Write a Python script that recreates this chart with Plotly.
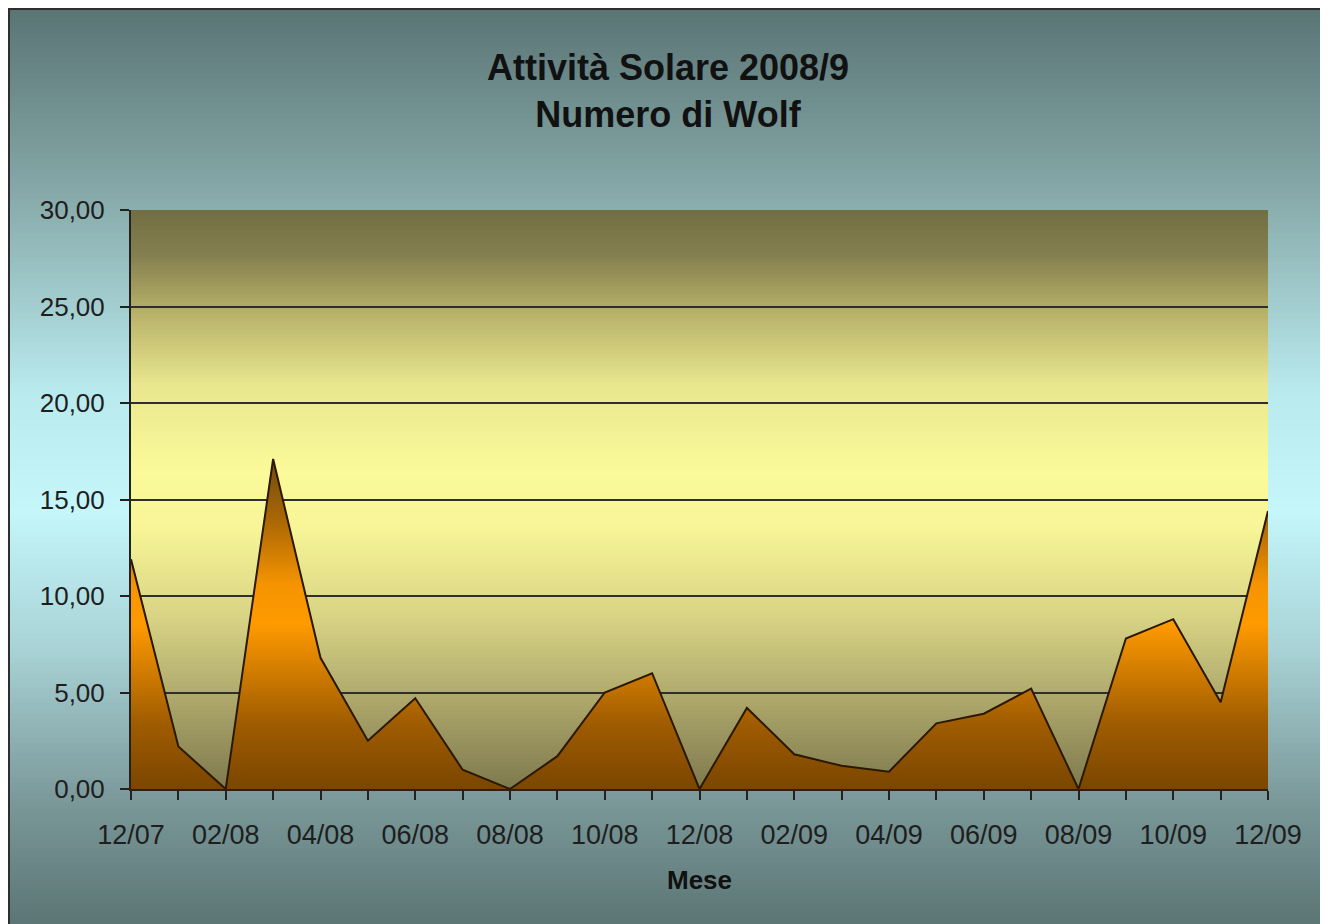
import plotly.graph_objects as go

# ---- data ----
months = ["12/07", "01/08", "02/08", "03/08", "04/08", "05/08", "06/08", "07/08",
          "08/08", "09/08", "10/08", "11/08", "12/08", "01/09", "02/09", "03/09",
          "04/09", "05/09", "06/09", "07/09", "08/09", "09/09", "10/09", "11/09", "12/09"]
wolf = [11.9, 2.2, 0.0, 17.1, 6.8, 2.5, 4.7, 1.0, 0.0, 1.7, 5.0, 6.0, 0.0,
        4.2, 1.8, 1.2, 0.9, 3.4, 3.9, 5.2, 0.0, 7.8, 8.8, 4.5, 14.4]
y_ticks = [0, 5, 10, 15, 20, 25, 30]

title_lines = ["Attività Solare 2008/9", "Numero di Wolf"]
x_title = "Mese"

# ---- geometry (figure pixels; page adds an 8px body margin) ----
W, H = 1320, 916
L, R, T, B = 123, 60, 202, 135
PW, PH = W - L - R, H - T - B


def px_x(px):
    return (px - L) / PW


def px_y(py):
    return (H - B - py) / PH


def hex2rgb(h):
    h = h.lstrip("#")
    return tuple(int(h[i:i + 2], 16) for i in (0, 2, 4))


def interp(stops, f):
    for (f0, c0), (f1, c1) in zip(stops[:-1], stops[1:]):
        if f0 <= f <= f1:
            t = 0 if f1 == f0 else (f - f0) / (f1 - f0)
            a, b = hex2rgb(c0), hex2rgb(c1)
            return "rgb(%d,%d,%d)" % tuple(round(a[k] + (b[k] - a[k]) * t) for k in range(3))
    return stops[-1][1]


shapes = []


def bands(x0, x1, y0, y1, stops, step):
    n = int((y1 - y0) / step) + 1
    for i in range(n):
        ya = y0 + i * step
        yb = min(y1, ya + step + 1)
        f = (ya + step / 2 - y0) / (y1 - y0)
        f = max(0, min(1, f))
        shapes.append(dict(type="rect", xref="paper", yref="paper", layer="below",
                           x0=px_x(x0), x1=px_x(x1), y0=px_y(ya), y1=px_y(yb),
                           fillcolor=interp(stops, f), line=dict(width=0)))


outer_stops = [(0.0, "#5a7474"), (0.2, "#86a8a8"), (0.42, "#b9eaee"),
               (0.55, "#c4f6fa"), (0.7, "#a8d2d6"), (0.86, "#7c9a9b"), (1.0, "#5c7575")]
bands(0, 1316, 0, H, outer_stops, 5)

plot_stops = [(0.0, "#716e42"), (0.08, "#858050"), (0.17, "#b4ae66"), (0.3, "#e8e68e"),
              (0.45, "#fbfa9a"), (0.55, "#f7f597"), (0.7, "#d8d484"), (0.85, "#aca66b"),
              (1.0, "#7e794d")]
bands(L, W - R, T, H - B, plot_stops, 4)

# outer frame
shapes.append(dict(type="rect", xref="paper", yref="paper", layer="above",
                   x0=px_x(1), x1=px_x(1316), y0=px_y(1), y1=px_y(H + 10),
                   line=dict(color="#2e2e2e", width=2), fillcolor="rgba(0,0,0,0)"))

fig = go.Figure()
fig.add_trace(go.Scatter(
    x=months, y=wolf, mode="lines", fill="tozeroy",
    fillgradient=dict(type="vertical",
                      colorscale=[[0.0, "#7a4600"], [0.2, "#a05c00"], [0.5, "#ff9a00"],
                                  [0.62, "#f59400"], [0.8, "#b06a05"], [1.0, "#6e4a10"]]),
    line=dict(color="#2a1800", width=2),
    hoverinfo="x+y", showlegend=False,
))

font_main = "Liberation Sans, Arial, sans-serif"
fig.update_layout(
    width=W, height=H,
    margin=dict(l=L, r=R, t=T, b=B),
    paper_bgcolor="white",
    plot_bgcolor="rgba(0,0,0,0)",
    separators=",.",
    shapes=shapes,
    showlegend=False,
    title=dict(text="<b>" + "<br>".join(title_lines) + "</b>",
               x=660 / W, xanchor="center", y=1 - 72 / H, yanchor="middle",
               font=dict(family=font_main, size=36, color="#111111")),
    xaxis=dict(
        type="category", range=[0, len(months) - 1],
        tickmode="array", tickvals=months,
        ticktext=[m if i % 2 == 0 else "" for i, m in enumerate(months)],
        tickangle=0,
        ticks="outside", ticklen=9, tickwidth=2, tickcolor="#222222",
        showline=True, linecolor="#222222", linewidth=2,
        showgrid=False, zeroline=False,
        tickfont=dict(family=font_main, size=27, color="#1e1e1e"),
        ticklabelstandoff=12,
        title=dict(text="<b>" + x_title + "</b>", standoff=21,
                   font=dict(family=font_main, size=26, color="#111111")),
    ),
    yaxis=dict(
        range=[0, 30], tickmode="array", tickvals=y_ticks, tickformat=".2f",
        ticks="outside", ticklen=9, tickwidth=2, tickcolor="#222222",
        showline=True, linecolor="#222222", linewidth=2,
        showgrid=True, gridcolor="#2e2e2e", gridwidth=2,
        zeroline=False,
        tickfont=dict(family=font_main, size=26, color="#1e1e1e"),
        ticklabelstandoff=10,
    ),
)

fig.write_html("out.html")
